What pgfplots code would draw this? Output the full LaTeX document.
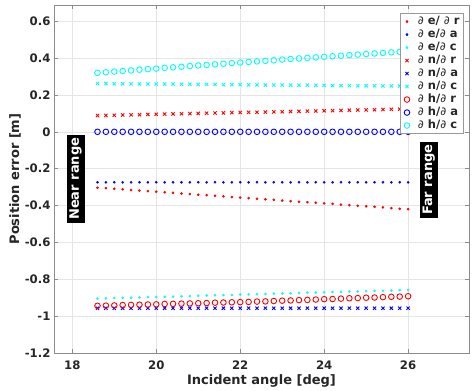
\documentclass[border=0pt]{standalone}
\usepackage{fontspec}
\setmainfont{DejaVu Sans}
\usepackage{pgfplots}
\usepackage{pgfplotstable}
\pgfplotsset{compat=1.18}
\definecolor{axgray}{gray}{0.55}
\definecolor{gridgray}{gray}{0.9}
\definecolor{txt}{gray}{0.15}
\definecolor{mred}{rgb}{1,0,0}
\definecolor{mblue}{rgb}{0,0,1}
\definecolor{mcyan}{rgb}{0,1,1}
\pgfplotsset{mylg/.style={legend image code/.code={\path[draw=none] (-0.02cm,-0.1cm) rectangle (0.38cm,0.1cm); \draw[##1] plot coordinates {(0.17cm,0cm)};}}}
\pgfplotstableread{
x er ea ec nr na nc hr ha hc
18.6 -0.303 -0.274 -0.905 0.088 -0.957 0.262 -0.944 0 0.320
18.8 -0.306 -0.274 -0.904 0.089 -0.957 0.262 -0.943 0 0.323
19.0 -0.309 -0.274 -0.902 0.090 -0.957 0.261 -0.942 0 0.327
19.2 -0.312 -0.274 -0.901 0.091 -0.957 0.261 -0.940 0 0.330
19.4 -0.316 -0.274 -0.900 0.092 -0.957 0.260 -0.939 0 0.333
19.6 -0.319 -0.274 -0.899 0.093 -0.957 0.260 -0.938 0 0.337
19.8 -0.322 -0.274 -0.897 0.094 -0.957 0.260 -0.937 0 0.340
20.0 -0.325 -0.274 -0.896 0.095 -0.957 0.259 -0.936 0 0.343
20.2 -0.328 -0.274 -0.895 0.096 -0.957 0.259 -0.934 0 0.347
20.4 -0.331 -0.274 -0.894 0.097 -0.957 0.259 -0.933 0 0.350
20.6 -0.335 -0.274 -0.892 0.098 -0.957 0.258 -0.932 0 0.353
20.8 -0.338 -0.274 -0.891 0.099 -0.957 0.258 -0.931 0 0.357
21.0 -0.341 -0.274 -0.890 0.100 -0.957 0.257 -0.930 0 0.360
21.2 -0.344 -0.274 -0.888 0.101 -0.957 0.257 -0.929 0 0.363
21.4 -0.347 -0.274 -0.887 0.102 -0.957 0.257 -0.927 0 0.366
21.6 -0.350 -0.274 -0.886 0.103 -0.957 0.256 -0.926 0 0.369
21.8 -0.354 -0.274 -0.885 0.104 -0.957 0.256 -0.925 0 0.373
22.0 -0.357 -0.274 -0.883 0.105 -0.957 0.256 -0.924 0 0.376
22.2 -0.360 -0.274 -0.882 0.106 -0.957 0.255 -0.923 0 0.379
22.4 -0.363 -0.274 -0.881 0.106 -0.957 0.255 -0.921 0 0.382
22.6 -0.366 -0.274 -0.880 0.107 -0.957 0.254 -0.920 0 0.385
22.8 -0.369 -0.274 -0.878 0.108 -0.957 0.254 -0.918 0 0.388
23.0 -0.373 -0.274 -0.877 0.109 -0.957 0.254 -0.916 0 0.392
23.2 -0.376 -0.274 -0.876 0.110 -0.957 0.253 -0.915 0 0.395
23.4 -0.379 -0.274 -0.875 0.111 -0.957 0.253 -0.913 0 0.398
23.6 -0.382 -0.274 -0.873 0.112 -0.957 0.253 -0.912 0 0.401
23.8 -0.385 -0.274 -0.872 0.113 -0.957 0.252 -0.910 0 0.404
24.0 -0.388 -0.274 -0.871 0.114 -0.957 0.252 -0.908 0 0.407
24.2 -0.391 -0.274 -0.869 0.115 -0.957 0.251 -0.907 0 0.410
24.4 -0.395 -0.274 -0.868 0.116 -0.957 0.251 -0.905 0 0.413
24.6 -0.398 -0.274 -0.867 0.117 -0.957 0.251 -0.903 0 0.416
24.8 -0.401 -0.274 -0.866 0.118 -0.957 0.250 -0.902 0 0.419
25.0 -0.404 -0.274 -0.864 0.119 -0.957 0.250 -0.900 0 0.422
25.2 -0.407 -0.274 -0.863 0.120 -0.957 0.250 -0.899 0 0.425
25.4 -0.410 -0.274 -0.862 0.121 -0.957 0.249 -0.897 0 0.428
25.6 -0.414 -0.274 -0.861 0.122 -0.957 0.249 -0.895 0 0.431
25.8 -0.417 -0.274 -0.859 0.123 -0.957 0.248 -0.894 0 0.434
26.0 -0.420 -0.274 -0.858 0.124 -0.957 0.248 -0.892 0 0.437
}\datatable
\newcommand{\pd}{{\mdseries\itshape ∂}}
\newcommand{\lsp}{\hspace*{3pt}}
\begin{document}
\begin{tikzpicture}
\begin{axis}[
  name=ax,
  scale only axis,
  width=415pt, height=348pt,
  xmin=17.564, xmax=27.45,
  ymin=-1.2, ymax=0.688,
  xtick={18,20,22,24,26},
  ytick={-1.2,-1,-0.8,-0.6,-0.4,-0.2,0,0.2,0.4,0.6},
  grid=major,
  major grid style={color=gridgray, line width=0.5pt},
  axis line style={color=axgray, line width=0.6pt},
  tick style={color=axgray, line width=0.6pt},
  tick align=inside,
  tick pos=both,
  major tick length=4pt,
  /pgf/number format/assume math mode=true,
  ticklabel style={font=\fontsize{11.7}{14}\selectfont\bfseries, text=txt},
  xticklabel style={yshift=-4pt},
  xlabel={Incident angle [deg]},
  ylabel={Position error [m]},
  label style={font=\fontsize{13}{15}\selectfont\bfseries, text=txt},
  xlabel style={at={(rel axis cs:0.5,0)}, anchor=center, yshift=-28pt},
  ylabel style={at={(rel axis cs:0,0.5)}, anchor=center, yshift=39pt},
  clip=false,
  legend cell align=left,
  legend style={at={(rel axis cs:1,1)}, anchor=north east, xshift=-5.7pt, yshift=-8.3pt,
    draw=black!40, fill=white, line width=0.5pt,
    font=\fontsize{11.5}{13}\selectfont\bfseries, text=txt,
    row sep=0pt, inner sep=1.5pt,
    nodes={inner ysep=1.5pt, text height=7.8pt, text depth=2.2pt}},
]
\addplot[only marks, mylg, mark=*, mark size=1.1pt, color=mred] table[x=x, y=er] {\datatable};
\addplot[only marks, mylg, mark=*, mark size=1.1pt, color=mblue] table[x=x, y=ea] {\datatable};
\addplot[only marks, mylg, mark=*, mark size=1.1pt, color=mcyan] table[x=x, y=ec] {\datatable};
\addplot[only marks, mylg, mark=x, mark size=2.3pt, line width=0.9pt, color=mred] table[x=x, y=nr] {\datatable};
\addplot[only marks, mylg, mark=x, mark size=2.3pt, line width=0.9pt, color=mblue] table[x=x, y=na] {\datatable};
\addplot[only marks, mylg, mark=x, mark size=2.3pt, line width=0.9pt, color=mcyan] table[x=x, y=nc] {\datatable};
\addplot[only marks, mylg, mark=o, mark size=2.8pt, line width=0.9pt, color=mred] table[x=x, y=hr] {\datatable};
\addplot[only marks, mylg, mark=o, mark size=2.8pt, line width=0.9pt, color=mblue] table[x=x, y=ha] {\datatable};
\addplot[only marks, mylg, mark=o, mark size=2.8pt, line width=0.9pt, color=mcyan] table[x=x, y=hc] {\datatable};
\legend{\lsp\pd\ e/ \pd\ r, \lsp\pd\ e/\pd\ a, \lsp\pd\ e/\pd\ c, \lsp\pd\ n/\pd\ r, \lsp\pd\ n/\pd\ a, \lsp\pd\ n/\pd\ c, \lsp\pd\ h/\pd\ r, \lsp\pd\ h/\pd\ a, \lsp\pd\ h/\pd\ c}
\node[fill=black, text=white, rotate=90, font=\fontsize{13}{15}\selectfont\bfseries, inner sep=3pt] at (axis cs:18.08,-0.255) {Near range};
\node[fill=black, text=white, rotate=90, font=\fontsize{13}{15}\selectfont\bfseries, inner sep=3pt] at (axis cs:26.49,-0.26) {Far range};
\end{axis}
\pgfresetboundingbox
\path ([shift={(-54pt,-38pt)}]ax.south west) rectangle ([shift={(3pt,5pt)}]ax.north east);
\end{tikzpicture}
\end{document}
